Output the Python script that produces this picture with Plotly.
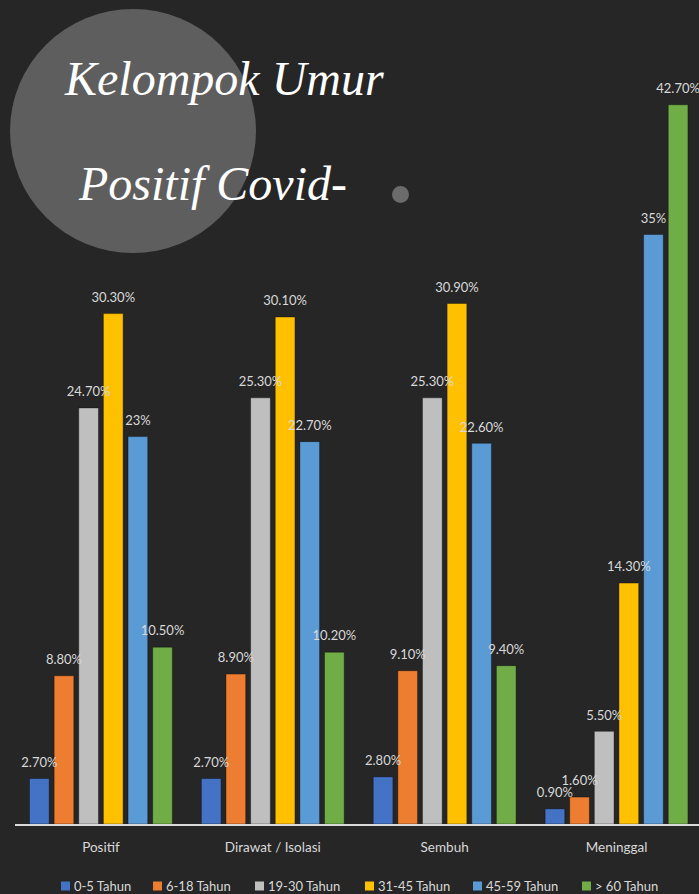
import plotly.graph_objects as go

categories = ["Positif", "Dirawat / Isolasi", "Sembuh", "Meninggal"]
series_names = ["0-5 Tahun", "6-18 Tahun", "19-30 Tahun", "31-45 Tahun", "45-59 Tahun", "> 60 Tahun"]
v_0_5 = [2.7, 2.7, 2.8, 0.9]
v_6_18 = [8.8, 8.9, 9.1, 1.6]
v_19_30 = [24.7, 25.3, 25.3, 5.5]
v_31_45 = [30.3, 30.1, 30.9, 14.3]
v_45_59 = [23, 22.7, 22.6, 35]
v_60 = [10.5, 10.2, 9.4, 42.7]
labels_0_5 = ["2.70%", "2.70%", "2.80%", "0.90%"]
labels_6_18 = ["8.80%", "8.90%", "9.10%", "1.60%"]
labels_19_30 = ["24.70%", "25.30%", "25.30%", "5.50%"]
labels_31_45 = ["30.30%", "30.10%", "30.90%", "14.30%"]
labels_45_59 = ["23%", "22.70%", "22.60%", "35%"]
labels_60 = ["10.50%", "10.20%", "9.40%", "42.70%"]

colors = ["#4472C4", "#ED7D31", "#BFBFBF", "#FFC000", "#5B9BD5", "#70AD47"]
values = [v_0_5, v_6_18, v_19_30, v_31_45, v_45_59, v_60]
labels = [labels_0_5, labels_6_18, labels_19_30, labels_31_45, labels_45_59, labels_60]

BG = "#262626"
TXT = "#D9D9D9"
FONT = "Lato"

W, H = 699, 894
L, R, T, B = 15, 0, 66, 70
dom_w = W - L - R
dom_h = H - T - B

def px_x(p):
    return (p - L) / dom_w

def px_y(p):
    return (H - B - p) / dom_h

fig = go.Figure()
xs = list(range(len(categories)))
for name, vals, col in zip(series_names, values, colors):
    fig.add_trace(go.Bar(
        x=xs, y=vals, name=name,
        marker=dict(color=col, line=dict(color="rgba(0,0,0,0.35)", width=1)),
        hoverinfo="skip", showlegend=False,
    ))
# value labels, grouped like the bars
for name, vals, labs in zip(series_names, values, labels):
    fig.add_trace(go.Scatter(
        x=xs, y=vals, text=labs, mode="markers+text", textposition="top center",
        marker=dict(size=12, opacity=0), cliponaxis=False,
        textfont=dict(family=FONT, size=13, color=TXT),
        hoverinfo="skip", showlegend=False,
    ))

fig.update_layout(
    width=W, height=H,
    paper_bgcolor=BG, plot_bgcolor=BG,
    margin=dict(l=L, r=R, t=T, b=B, autoexpand=False),
    barmode="group", bargap=0.14, bargroupgap=0.2,
    scattermode="group", scattergap=0.14,
    font=dict(family=FONT, color=TXT, size=13),
    showlegend=False,
    xaxis=dict(range=[-0.5, 3.48], tickvals=xs, ticktext=categories,
               showline=True, linecolor=TXT, linewidth=2, showgrid=False,
               zeroline=False, ticks="", ticklabelstandoff=10,
               tickfont=dict(family=FONT, size=13.5, color=TXT)),
    yaxis=dict(range=[0, 45], visible=False, showgrid=False, zeroline=False),
)

# custom legend (square + label)
legend_x = [61, 153, 255, 365, 473, 582]
legend_y = 886
for lx, name, col in zip(legend_x, series_names, colors):
    fig.add_shape(type="rect", xref="paper", yref="paper",
                  x0=px_x(lx), x1=px_x(lx + 9), y0=px_y(legend_y + 4.5), y1=px_y(legend_y - 4.5),
                  fillcolor=col, line=dict(width=0))
    fig.add_annotation(text=name, xref="paper", yref="paper",
                       x=px_x(lx + 11), y=px_y(legend_y), xanchor="left", yanchor="middle",
                       showarrow=False, font=dict(family=FONT, size=13, color=TXT))

# decorative circle and dot
fig.add_shape(type="circle", xref="paper", yref="paper",
              x0=px_x(10), x1=px_x(256), y0=px_y(253), y1=px_y(9),
              fillcolor="#5F5E5E", line=dict(width=0), layer="below")
fig.add_shape(type="circle", xref="paper", yref="paper",
              x0=px_x(392), x1=px_x(409), y0=px_y(203), y1=px_y(186),
              fillcolor="#6B6B6B", line=dict(width=0), layer="below")

title_font = dict(family="Liberation Serif", size=48, color="#FFFFFF", style="italic")
fig.add_annotation(text="Kelompok Umur", xref="paper", yref="paper",
                   x=px_x(224), y=px_y(78), xanchor="center", yanchor="middle",
                   showarrow=False, font=title_font)
fig.add_annotation(text="Positif Covid-", xref="paper", yref="paper",
                   x=px_x(212), y=px_y(183), xanchor="center", yanchor="middle",
                   showarrow=False, font=title_font)

fig.write_html("out.html", config={"displayModeBar": False},
               post_script="document.body.style.margin='0';")
